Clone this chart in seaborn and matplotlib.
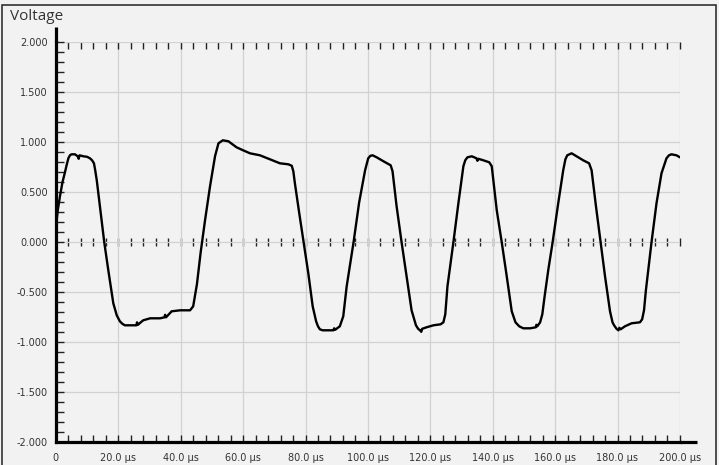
import numpy as np
import pandas as pd
import matplotlib
matplotlib.use("Agg")
import matplotlib.pyplot as plt
from matplotlib.ticker import MultipleLocator, FixedLocator, FixedFormatter
from matplotlib.patches import Rectangle
import seaborn as sns

# Captured waveform: time in microseconds, voltage in volts
time_us = [
    0.0, 0.6, 1.3, 2.1, 2.9, 3.5, 4.0, 4.5, 5.0, 6.1, 7.0, 7.3, 7.6, 8.8, 10.0, 10.9, 11.6, 12.2,
    12.6, 13.1, 14.1, 15.5, 16.8, 18.4, 19.5, 20.5, 21.3, 22.1, 24.3, 25.8, 26.0, 26.3, 27.2,
    28.0, 30.2, 33.4, 34.8, 35.0, 35.3, 37.1, 39.8, 43.0, 44.0, 45.2, 46.4, 47.8, 49.4,
    51.0, 52.1, 53.5, 55.3, 57.9, 60.0, 62.2, 65.4, 68.6, 71.8, 74.5, 75.6, 76.1, 76.6, 78.0,
    79.3, 80.9, 82.3, 83.4, 84.0, 84.6, 85.5, 86.8, 88.9, 89.2, 89.5, 91.0, 92.1, 93.2, 95.4, 97.2,
    99.1, 100.1, 100.8, 101.5, 102.8, 105.0, 107.3, 107.9, 109.2, 110.8, 112.4, 114.0, 115.4,
    116.1, 116.7, 117.1, 117.4, 118.8, 121.0, 123.3, 124.2, 124.8, 125.5, 127.4, 129.0, 130.6, 131.2, 131.9,
    133.3, 134.8, 135.1, 135.4, 137.0, 138.9, 139.7, 141.3, 142.9, 144.5, 146.1, 147.3,
    148.5, 149.8, 152.0, 153.8, 154.0, 154.3, 155.2, 155.9, 156.6, 157.8, 159.2, 161.0, 162.6,
    163.3, 163.9, 165.3, 166.9, 169.0, 170.9, 171.7, 173.1, 174.6, 176.0, 177.6, 178.4, 178.9, 179.7,
    180.3, 180.6, 181.0, 182.4, 184.5, 187.2, 187.9, 188.5, 189.1, 190.9, 192.5, 194.1, 195.7, 196.5, 197.3,
    198.9, 200.0,
]
voltage = [
    0.15, 0.32, 0.46, 0.60, 0.70, 0.78, 0.84, 0.87, 0.88, 0.88, 0.86, 0.835, 0.87, 0.86, 0.855, 0.84, 0.82, 0.79,
    0.72, 0.62, 0.36, 0.0, -0.28, -0.61, -0.73, -0.79, -0.815, -0.83, -0.83, -0.83, -0.80, -0.825, -0.80,
    -0.78, -0.76, -0.76, -0.75, -0.725, -0.75, -0.69, -0.68, -0.68, -0.64, -0.42, -0.10, 0.22, 0.56,
    0.86, 0.99, 1.02, 1.01, 0.95, 0.92, 0.89, 0.87, 0.83, 0.79, 0.78, 0.765, 0.71, 0.59, 0.29,
    0.02, -0.31, -0.64, -0.79, -0.84, -0.87, -0.88, -0.88, -0.88, -0.86, -0.875, -0.84, -0.74, -0.44, 0.0, 0.40,
    0.72, 0.84, 0.865, 0.87, 0.85, 0.81, 0.77, 0.71, 0.36, 0.0, -0.34, -0.68, -0.83,
    -0.865, -0.88, -0.895, -0.865, -0.85, -0.83, -0.82, -0.80, -0.72, -0.44, 0.0, 0.39, 0.76, 0.82, 0.85,
    0.86, 0.84, 0.815, 0.835, 0.82, 0.80, 0.76, 0.32, 0.0, -0.34, -0.69, -0.80,
    -0.84, -0.86, -0.86, -0.85, -0.825, -0.84, -0.80, -0.72, -0.55, -0.28, 0.0, 0.39, 0.72,
    0.83, 0.87, 0.89, 0.86, 0.82, 0.79, 0.72, 0.36, 0.0, -0.34, -0.69, -0.80, -0.83, -0.865,
    -0.88, -0.855, -0.87, -0.84, -0.81, -0.80, -0.77, -0.68, -0.48, 0.0, 0.39, 0.69, 0.84, 0.87, 0.88,
    0.87, 0.85,
]

x_ticks = [0, 20, 40, 60, 80, 100, 120, 140, 160, 180, 200]
x_tick_labels = ["0", "20.0 µs", "40.0 µs", "60.0 µs", "80.0 µs", "100.0 µs",
                 "120.0 µs", "140.0 µs", "160.0 µs", "180.0 µs", "200.0 µs"]
y_ticks = [-2.0, -1.5, -1.0, -0.5, 0.0, 0.5, 1.0, 1.5, 2.0]
y_tick_labels = ["-2.000", "-1.500", "-1.000", "-0.500", "0.000",
                 "0.500", "1.000", "1.500", "2.000"]
y_title = "Voltage"

df = pd.DataFrame({"time": time_us, "voltage": voltage})

sns.set_theme(style="white")
plt.rcParams["font.family"] = ["DejaVu Sans"]

BG = "#f2f2f2"
W, H = 719, 465
fig = plt.figure(figsize=(W / 100, H / 100), dpi=100, facecolor=BG)
ax = fig.add_axes([55.9 / W, (H - 442.3) / H, 624 / W, 400 / H])
ax.set_facecolor(BG)

sns.lineplot(data=df, x="time", y="voltage", ax=ax, color="black",
             linewidth=1.7, estimator=None, sort=True, zorder=5)
for ln in ax.lines:
    ln.set_solid_joinstyle("round")

ax.set_xlim(0, 200)
ax.set_ylim(-2, 2)
ax.set_xlabel("")
ax.set_ylabel("")

# grid
ax.xaxis.set_major_locator(FixedLocator(x_ticks))
ax.xaxis.set_major_formatter(FixedFormatter(x_tick_labels))
ax.yaxis.set_major_locator(FixedLocator(y_ticks))
ax.yaxis.set_major_formatter(FixedFormatter(y_tick_labels))
ax.xaxis.set_minor_locator(MultipleLocator(4))
ax.yaxis.set_minor_locator(MultipleLocator(0.1))
ax.grid(True, which="major", color="#d2d2d2", linewidth=0.9, zorder=0)
ax.set_axisbelow(True)

# axes lines
for side in ("top", "right"):
    ax.spines[side].set_visible(False)
for side in ("left", "bottom"):
    ax.spines[side].set_color("black")
    ax.spines[side].set_linewidth(2.3)
ax.plot([0, 0], [1.0, 1.038], transform=ax.transAxes, color="black",
        lw=2.3, clip_on=False, solid_capstyle="butt")
ax.plot([1.0, 1.028], [0, 0], transform=ax.transAxes, color="black",
        lw=2.3, clip_on=False, solid_capstyle="butt")

ax.tick_params(axis="x", which="both", direction="in", length=5, width=1,
               color="#222222", bottom=True, top=True, pad=8,
               labelsize=7, labelcolor="#333333")
ax.tick_params(axis="y", which="both", direction="in", length=6, width=1,
               color="#222222", left=True, right=False, pad=6,
               labelsize=7, labelcolor="#333333")

# tick marks along the zero line
sec = ax.secondary_xaxis(0.5)
sec.xaxis.set_major_locator(MultipleLocator(4))
sec.xaxis.set_minor_locator(matplotlib.ticker.NullLocator())
sec.tick_params(axis="x", which="both", direction="inout", length=6, width=1,
                color="#222222", labeltop=False, labelbottom=False)
for s in sec.spines.values():
    s.set_visible(False)

fig.text(10 / W, 1 - 17 / H, y_title, ha="left", va="center",
         fontsize=11, color="#333333", family=["Open Sans", "DejaVu Sans"])

# outer frame
fig.patches.append(Rectangle((2 / W, -0.05), (716 - 2) / W, 1 - 5 / H + 0.05,
                             transform=fig.transFigure, fill=False,
                             edgecolor="#333333", linewidth=1.2))

fig.savefig("out.png", dpi=100, facecolor=BG)
